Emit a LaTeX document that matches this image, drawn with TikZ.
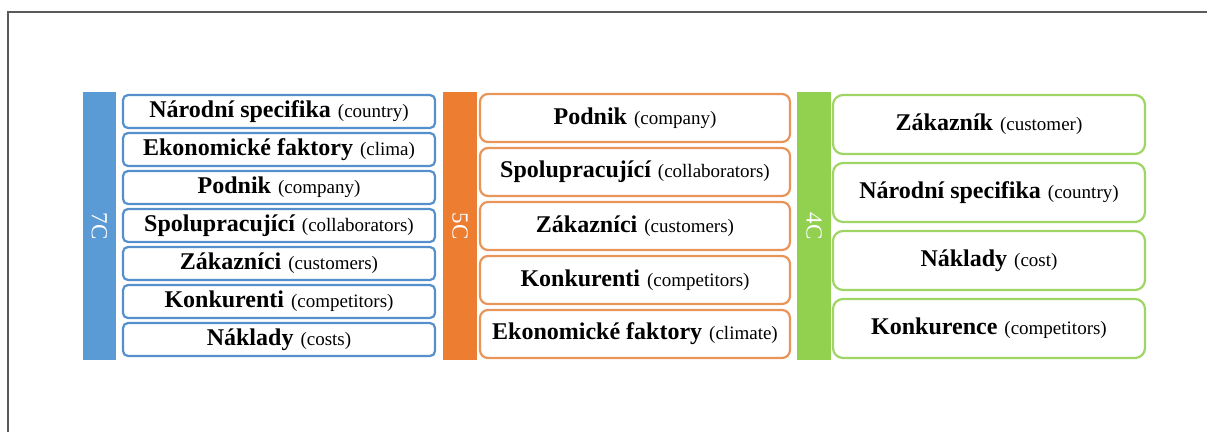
\documentclass[tikz,border=0pt]{standalone}
\usepackage{fontspec}
\setmainfont{Liberation Serif}
\definecolor{cblue}{HTML}{5B9BD5}
\definecolor{cblueline}{HTML}{5590CC}
\definecolor{corange}{HTML}{ED7D31}
\definecolor{corangeline}{HTML}{E8955A}
\definecolor{cgreen}{HTML}{92D050}
\definecolor{cgreenline}{HTML}{9ED565}
\definecolor{frameline}{HTML}{5A5A5A}
\newcommand{\boldpart}[1]{{\fontsize{24}{26}\selectfont\bfseries #1}}
\newcommand{\lightpart}[1]{\hspace{7pt}{\fontsize{19}{22}\selectfont #1}}
\tikzset{
  cbar/.style={fill=#1, draw=none, inner sep=0pt, text=white,
    font=\fontsize{23}{25}\selectfont},
  cbox/.style={draw=#1, line width=2.2pt, fill=white, inner sep=0pt, align=center},
  bluebox/.style={cbox=cblueline, rounded corners=5pt, minimum width=312pt, minimum height=33pt},
  orangebox/.style={cbox=corangeline, rounded corners=8pt, minimum width=310pt, minimum height=48pt},
  greenbox/.style={cbox=cgreenline, rounded corners=10pt, minimum width=312pt, minimum height=59pt},
}
\begin{document}
\begin{tikzpicture}[x=1pt,y=-1pt]
\useasboundingbox (0,0) rectangle (1207,432);
\coordinate (fa) at (8,432);
\coordinate (fb) at (8,12);
\coordinate (fc) at (1207,12);
\draw[frameline, line width=1.5pt] (fa) -- (fb) -- (fc);

% 7C
\node[cbar=cblue, minimum width=33pt, minimum height=268pt] (bar7) at (99.5,226) {\rotatebox{-90}{7C}};
\node[bluebox] (s1) at (279,111.5) {\boldpart{Národní specifika}\lightpart{(country)}};
\node[bluebox] (s2) at (279,149.5) {\boldpart{Ekonomické faktory}\lightpart{(clima)}};
\node[bluebox] (s3) at (279,187.5) {\boldpart{Podnik}\lightpart{(company)}};
\node[bluebox] (s4) at (279,225.5) {\boldpart{Spolupracující}\lightpart{(collaborators)}};
\node[bluebox] (s5) at (279,263.5) {\boldpart{Zákazníci}\lightpart{(customers)}};
\node[bluebox] (s6) at (279,301.5) {\boldpart{Konkurenti}\lightpart{(competitors)}};
\node[bluebox] (s7) at (279,339.5) {\boldpart{Náklady}\lightpart{(costs)}};

% 5C
\node[cbar=corange, minimum width=34pt, minimum height=268pt] (bar5) at (460,226) {\rotatebox{-90}{5C}};
\node[orangebox] (f1) at (635,118) {\boldpart{Podnik}\lightpart{(company)}};
\node[orangebox] (f2) at (635,172) {\boldpart{Spolupracující}\lightpart{(collaborators)}};
\node[orangebox] (f3) at (635,226) {\boldpart{Zákazníci}\lightpart{(customers)}};
\node[orangebox] (f4) at (635,280) {\boldpart{Konkurenti}\lightpart{(competitors)}};
\node[orangebox] (f5) at (635,334) {\boldpart{Ekonomické faktory}\lightpart{(climate)}};

% 4C
\node[cbar=cgreen, minimum width=34pt, minimum height=268pt] (bar4) at (814,226) {\rotatebox{-90}{4C}};
\node[greenbox] (g1) at (989,124.5) {\boldpart{Zákazník}\lightpart{(customer)}};
\node[greenbox] (g2) at (989,192.5) {\boldpart{Národní specifika}\lightpart{(country)}};
\node[greenbox] (g3) at (989,260.5) {\boldpart{Náklady}\lightpart{(cost)}};
\node[greenbox] (g4) at (989,328.5) {\boldpart{Konkurence}\lightpart{(competitors)}};
\end{tikzpicture}
\end{document}
